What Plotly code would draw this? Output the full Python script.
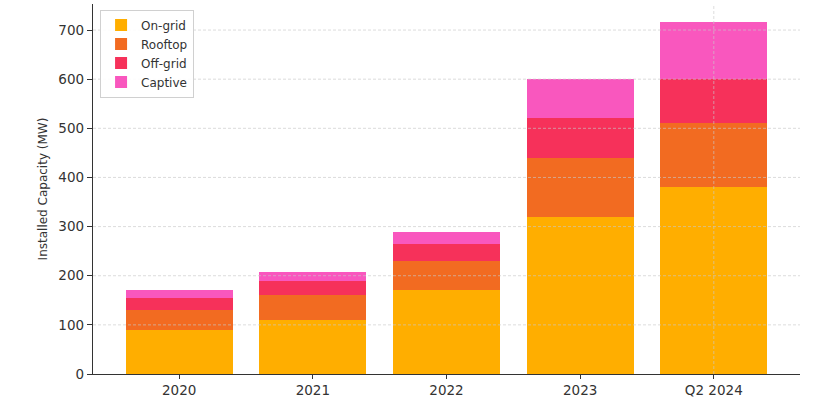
import plotly.graph_objects as go

categories = ["2020", "2021", "2022", "2023", "Q2 2024"]
on_grid = [90, 110, 170, 320, 380]
rooftop = [40, 50, 60, 120, 130]
off_grid = [25, 30, 35, 80, 90]
captive = [15, 17, 25, 80, 117]
y_ticks = [0, 100, 200, 300, 400, 500, 600, 700]

series = [
    ("On-grid", on_grid, "#FFAE00"),
    ("Rooftop", rooftop, "#F26B21"),
    ("Off-grid", off_grid, "#F6315A"),
    ("Captive", captive, "#F957BE"),
]

fig = go.Figure()
for name, vals, color in series:
    fig.add_trace(go.Bar(
        x=categories, y=vals, name=name,
        marker=dict(color=color, line=dict(width=0)),
        width=0.8,
    ))

grid_style = dict(color="rgba(200,200,200,0.8)", width=0.8, dash="3px,2px")
shapes = []
for t in y_ticks[1:]:
    shapes.append(dict(type="line", xref="paper", x0=0, x1=1, yref="y", y0=t, y1=t,
                       line=grid_style, layer="above"))
for c in categories:
    shapes.append(dict(type="line", xref="x", x0=c, x1=c, yref="paper", y0=0, y1=1,
                       line=grid_style, layer="above"))

fig.update_layout(
    barmode="stack",
    width=836, height=397,
    margin=dict(l=93, r=36, t=4, b=23),
    paper_bgcolor="white", plot_bgcolor="white",
    font=dict(family="DejaVu Sans", color="#333333"),
    shapes=shapes,
    legend=dict(
        x=0.01, y=0.985, xanchor="left", yanchor="top",
        traceorder="normal",
        bgcolor="rgba(255,255,255,0.9)",
        bordercolor="#d0d0d0", borderwidth=1,
        font=dict(size=12, color="#333333"),
        tracegroupgap=0,
    ),
    showlegend=True,
)
fig.update_xaxes(
    range=[-0.645, 4.645],
    automargin=False,
    showgrid=False,
    showline=True, linecolor="#333333", linewidth=1.3,
    ticks="outside", ticklen=4, tickcolor="#333333",
    tickfont=dict(size=13.5, color="#333333"),
    zeroline=False,
)
fig.update_yaxes(
    range=[0, 753],
    automargin=False,
    tickvals=y_ticks,
    showgrid=False,
    showline=True, linecolor="#333333", linewidth=1.3,
    ticks="outside", ticklen=5, tickcolor="#333333",
    tickfont=dict(size=13.5, color="#333333"),
    title=dict(text="Installed Capacity (MW)", font=dict(size=12, color="#333333"), standoff=8),
    zeroline=False,
)

fig.write_html("out.html")
